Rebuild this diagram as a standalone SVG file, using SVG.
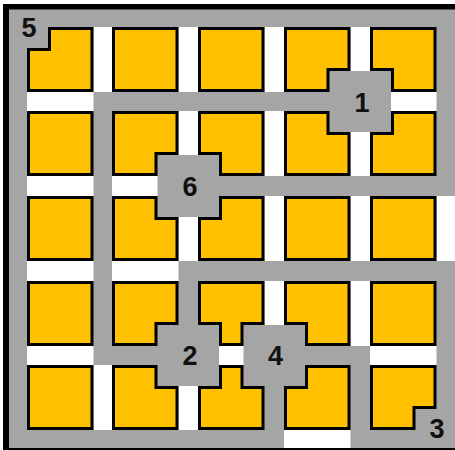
<svg xmlns="http://www.w3.org/2000/svg" width="455" height="450" viewBox="0 0 455 450">
<style>
.blk{fill:#FFC000;stroke:#000;stroke-width:3;stroke-linejoin:miter}
.wh{fill:#FFFFFF}
.gr{fill:#A5A5A5}
.num{font-family:"Liberation Sans",Arial,sans-serif;font-weight:bold;font-size:27px;fill:#111;text-anchor:middle}
</style>
<rect x="0" y="0" width="455" height="450" fill="#FFFFFF"/>
<rect x="3" y="4" width="452" height="446" fill="#000"/>
<rect class="gr" x="9" y="9.5" width="446" height="438.5"/>
<g id="streets">
<rect class="wh" x="93.5" y="27" width="18.5" height="65"/>
<rect class="wh" x="178.5" y="27" width="19.5" height="65"/>
<rect class="wh" x="264.5" y="27" width="19.5" height="65"/>
<rect class="wh" x="350.5" y="27" width="19.5" height="65"/>
<rect class="wh" x="178.5" y="111" width="19.5" height="65"/>
<rect class="wh" x="264.5" y="111" width="19.5" height="65"/>
<rect class="wh" x="350.5" y="111" width="19.5" height="65"/>
<rect class="wh" x="178.5" y="196" width="19.5" height="65"/>
<rect class="wh" x="264.5" y="196" width="19.5" height="65"/>
<rect class="wh" x="350.5" y="196" width="19.5" height="65"/>
<rect class="wh" x="436.5" y="196" width="18.5" height="65"/>
<rect class="wh" x="264.5" y="281" width="19.5" height="65"/>
<rect class="wh" x="350.5" y="281" width="19.5" height="65"/>
<rect class="wh" x="93.5" y="365" width="18.5" height="65"/>
<rect class="wh" x="178.5" y="365" width="19.5" height="65"/>
<rect class="wh" x="27" y="92" width="66.5" height="19"/>
<rect class="wh" x="370" y="92" width="66.5" height="19"/>
<rect class="wh" x="27" y="176" width="66.5" height="20"/>
<rect class="wh" x="112" y="176" width="66.5" height="20"/>
<rect class="wh" x="27" y="261" width="66.5" height="20"/>
<rect class="wh" x="112" y="261" width="66.5" height="20"/>
<rect class="wh" x="27" y="346" width="66.5" height="19"/>
<rect class="wh" x="198" y="346" width="66.5" height="19"/>
<rect class="wh" x="370" y="346" width="66.5" height="19"/>
<rect class="wh" x="284" y="430" width="66.5" height="18"/>
</g>
<g id="node1"><rect class="gr" x="329.5" y="71" width="61.5" height="61"/><text class="num" x="362" y="112">1</text></g>
<g id="node6"><rect class="gr" x="157.5" y="155" width="61.5" height="62"/><text class="num" x="190" y="196">6</text></g>
<g id="node2"><rect class="gr" x="157.5" y="325" width="61.5" height="61"/><text class="num" x="190" y="365">2</text></g>
<g id="node4"><rect class="gr" x="243.5" y="325" width="61.5" height="61"/><text class="num" x="275.5" y="365">4</text></g>
<g id="node5"><text class="num" x="29" y="37">5</text></g>
<g id="node3"><text class="num" x="437" y="438">3</text></g>
<g id="blocks">
<polygon class="blk" points="49.5,28.5 92,28.5 92,90.5 28.5,90.5 28.5,49.5 49.5,49.5"/>
<rect class="blk" x="113.5" y="28.5" width="63.5" height="62"/>
<rect class="blk" x="199.5" y="28.5" width="63.5" height="62"/>
<polygon class="blk" points="285.5,28.5 349,28.5 349,69.5 328,69.5 328,90.5 285.5,90.5"/>
<polygon class="blk" points="371.5,28.5 435,28.5 435,90.5 392.5,90.5 392.5,69.5 371.5,69.5"/>
<rect class="blk" x="28.5" y="112.5" width="63.5" height="62"/>
<polygon class="blk" points="113.5,112.5 177,112.5 177,153.5 156,153.5 156,174.5 113.5,174.5"/>
<polygon class="blk" points="199.5,112.5 263,112.5 263,174.5 220.5,174.5 220.5,153.5 199.5,153.5"/>
<polygon class="blk" points="285.5,112.5 328,112.5 328,133.5 349,133.5 349,174.5 285.5,174.5"/>
<polygon class="blk" points="392.5,112.5 435,112.5 435,174.5 371.5,174.5 371.5,133.5 392.5,133.5"/>
<rect class="blk" x="28.5" y="197.5" width="63.5" height="62"/>
<polygon class="blk" points="113.5,197.5 156,197.5 156,218.5 177,218.5 177,259.5 113.5,259.5"/>
<polygon class="blk" points="220.5,197.5 263,197.5 263,259.5 199.5,259.5 199.5,218.5 220.5,218.5"/>
<rect class="blk" x="285.5" y="197.5" width="63.5" height="62"/>
<rect class="blk" x="371.5" y="197.5" width="63.5" height="62"/>
<rect class="blk" x="28.5" y="282.5" width="63.5" height="62"/>
<polygon class="blk" points="113.5,282.5 177,282.5 177,323.5 156,323.5 156,344.5 113.5,344.5"/>
<polygon class="blk" points="199.5,282.5 263,282.5 263,323.5 242,323.5 242,344.5 220.5,344.5 220.5,323.5 199.5,323.5"/>
<polygon class="blk" points="285.5,282.5 349,282.5 349,344.5 306.5,344.5 306.5,323.5 285.5,323.5"/>
<rect class="blk" x="371.5" y="282.5" width="63.5" height="62"/>
<rect class="blk" x="28.5" y="366.5" width="63.5" height="62"/>
<polygon class="blk" points="113.5,366.5 156,366.5 156,387.5 177,387.5 177,428.5 113.5,428.5"/>
<polygon class="blk" points="220.5,366.5 242,366.5 242,387.5 263,387.5 263,428.5 199.5,428.5 199.5,387.5 220.5,387.5"/>
<polygon class="blk" points="306.5,366.5 349,366.5 349,428.5 285.5,428.5 285.5,387.5 306.5,387.5"/>
<polygon class="blk" points="371.5,366.5 435,366.5 435,407.5 414,407.5 414,428.5 371.5,428.5"/>
</g>
</svg>
